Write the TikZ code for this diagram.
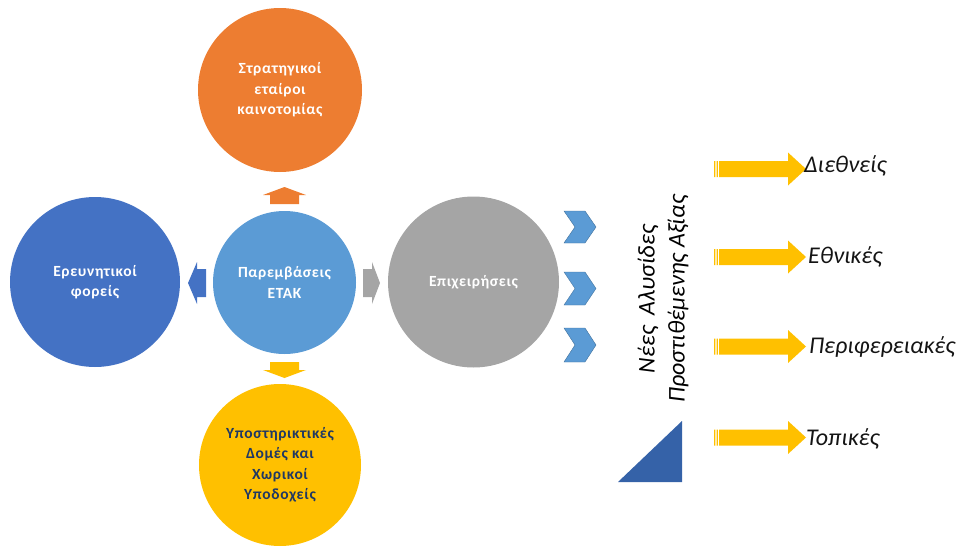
\documentclass[tikz,border=0pt]{standalone}
\usepackage{fontspec}
\setmainfont{Carlito}
\newfontfamily\bubblefont[LetterSpace=4]{Carlito}
\usepackage{tikz}
\definecolor{orng}{HTML}{ED7D31}
\definecolor{ltblue}{HTML}{5B9BD5}
\definecolor{dkblue}{HTML}{4472C4}
\definecolor{gry}{HTML}{A5A5A5}
\definecolor{ylw}{HTML}{FFC000}
\definecolor{navy}{HTML}{203864}
\definecolor{wedge}{HTML}{3562A8}
\definecolor{chevline}{HTML}{41719C}

\begin{document}
\begin{tikzpicture}[x=1pt,y=-1pt,
  bubble/.style={circle,inner sep=0pt,text=white,align=center,
    font=\bubblefont\bfseries\fontsize{15.5}{20.5}\selectfont},
  level/.style={anchor=base west,inner sep=0pt,text=black!92,
    font=\itshape\fontsize{24}{28}\selectfont},
  chev/.style={fill=ltblue,draw=chevline,line width=0.4pt},
  band/.style={fill=ylw}]

\useasboundingbox (0,0) rectangle (962,554);

\draw (280,90) node[bubble,fill=orng,minimum size=164pt] (partners) {Στρατηγικοί\\εταίροι\\καινοτομίας} ;

\draw (284.5,282.5) node[bubble,fill=ltblue,minimum size=143pt] (etak) {Παρεμβάσεις\\ΕΤΑΚ} ;

\draw (95,282) node[bubble,fill=dkblue,minimum size=170pt] (research) {Ερευνητικοί\\φορείς} ;

\draw (473.5,282) node[bubble,fill=gry,minimum size=171pt] (firms) {Επιχειρήσεις} ;

\draw (280,465) node[bubble,fill=ylw,text=navy,minimum size=162pt] (support) {Υποστηρικτικές\\Δομές και\\Χωρικοί\\Υποδοχείς} ;

\fill[orng] (270,204) -- (270,195) -- (263,195) -- (284.5,187) -- (306,195) -- (299,195) -- (299,204) -- cycle ;
\fill[ylw] (270,362) -- (270,370) -- (263,370) -- (284.5,378) -- (306,370) -- (299,370) -- (299,362) -- cycle ;
\fill[dkblue] (206,269) -- (197,269) -- (197,262) -- (188,283) -- (197,304) -- (197,297) -- (206,297) -- cycle ;
\fill[gry] (363,269) -- (372,269) -- (372,262) -- (380,283) -- (372,304) -- (372,297) -- (363,297) -- cycle ;

\filldraw[chev] (564,211) -- (585,211) -- (596,227) -- (585,243) -- (564,243) -- (575,227) -- cycle ;
\filldraw[chev] (564,272) -- (585,272) -- (596,288.5) -- (585,305) -- (564,305) -- (575,288.5) -- cycle ;
\filldraw[chev] (564,328) -- (585,328) -- (596,345) -- (585,362) -- (564,362) -- (575,345) -- cycle ;

\draw (663,299) node[rotate=90,align=center,inner sep=0pt,text=black,
  font=\itshape\fontsize{24}{30}\selectfont] (chains) {Νέες\ \ Αλυσίδες\\Προστιθέμενης Αξίας} ;

\fill[wedge] (618,482) -- (682,482) -- (682,421) -- cycle ;

\fill[band] (714,161) rectangle (715.3,177)  (716.5,161) rectangle (717.8,177) ;
\fill[band] (719,161) -- (788,161) -- (788,152.5) -- (806,169) -- (788,185.5) -- (788,177) -- (719,177) -- cycle ;
\draw (804,172) node[level] (intl) {Διεθνείς} ;

\fill[band] (714,249) rectangle (715.3,265)  (716.5,249) rectangle (717.8,265) ;
\fill[band] (719,249) -- (788,249) -- (788,240.5) -- (806,257) -- (788,273.5) -- (788,265) -- (719,265) -- cycle ;
\draw (808,263) node[level] (natl) {Εθνικές} ;

\fill[band] (714,338.5) rectangle (715.3,354.5)  (716.5,338.5) rectangle (717.8,354.5) ;
\fill[band] (719,338.5) -- (788,338.5) -- (788,330) -- (806,346.5) -- (788,363) -- (788,354.5) -- (719,354.5) -- cycle ;
\draw (809,353) node[level] (regl) {Περιφερειακές} ;

\fill[band] (714,429.5) rectangle (715.3,445.5)  (716.5,429.5) rectangle (717.8,445.5) ;
\fill[band] (719,429.5) -- (788,429.5) -- (788,421) -- (806,437.5) -- (788,454) -- (788,445.5) -- (719,445.5) -- cycle ;
\draw (806,445) node[level] (locl) {Τοπικές} ;

\end{tikzpicture}
\end{document}
